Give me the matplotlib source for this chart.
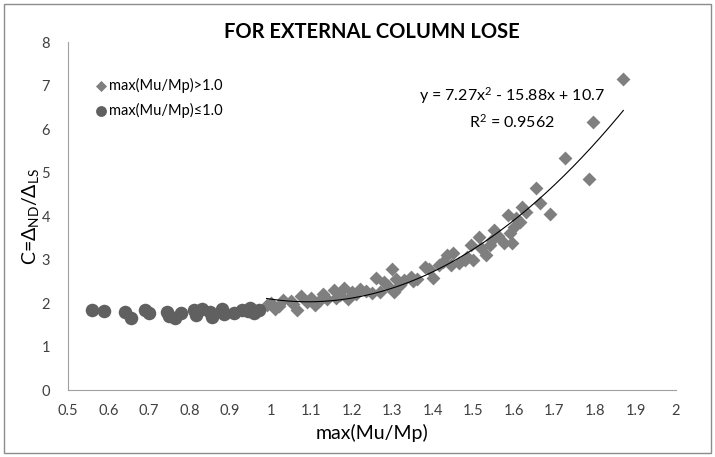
import numpy as np
import matplotlib.pyplot as plt
from matplotlib.patches import Rectangle

# 数据 (x <= 1.0, 圆点)
x_low = [0.56, 0.59, 0.64, 0.655, 0.69, 0.70, 0.745, 0.75, 0.765, 0.78, 0.81, 0.815,
         0.83, 0.85, 0.855, 0.88, 0.885, 0.91, 0.93, 0.945, 0.95, 0.96, 0.97]
y_low = [1.84, 1.82, 1.79, 1.65, 1.84, 1.78, 1.80, 1.70, 1.66, 1.76, 1.83, 1.72,
         1.86, 1.80, 1.68, 1.86, 1.75, 1.78, 1.84, 1.82, 1.88, 1.78, 1.83]

# 数据 (x > 1.0, 菱形)
x_high = [0.99, 1.00, 1.01, 1.02, 1.03, 1.05, 1.055, 1.065, 1.075, 1.09, 1.10, 1.11,
          1.12, 1.13, 1.14, 1.155, 1.16, 1.17, 1.18, 1.19, 1.20, 1.21, 1.22, 1.235,
          1.25, 1.26, 1.27, 1.28, 1.29, 1.30, 1.305, 1.31, 1.32, 1.33, 1.345, 1.35,
          1.36, 1.38, 1.39, 1.40, 1.415, 1.425, 1.435, 1.445, 1.45, 1.465, 1.48, 1.485,
          1.495, 1.50, 1.515, 1.52, 1.53, 1.54, 1.545, 1.55, 1.56, 1.575, 1.585, 1.59,
          1.595, 1.60, 1.605, 1.615, 1.62, 1.63, 1.655, 1.665, 1.69, 1.725, 1.785, 1.795,
          1.87]
y_high = [1.95, 2.00, 1.87, 1.92, 2.08, 2.05, 1.98, 1.84, 2.15, 2.02, 2.12, 1.95,
          2.05, 2.20, 2.10, 2.30, 2.12, 2.18, 2.35, 2.10, 2.25, 2.20, 2.32, 2.28,
          2.22, 2.58, 2.25, 2.48, 2.38, 2.78, 2.25, 2.55, 2.42, 2.52, 2.60, 2.50,
          2.55, 2.83, 2.78, 2.58, 2.87, 2.95, 3.10, 2.88, 3.14, 2.92, 2.99, 3.05,
          3.33, 2.98, 3.52, 3.26, 3.10, 3.33, 3.45, 3.68, 3.55, 3.38, 4.02, 3.60,
          3.38, 3.75, 3.95, 3.87, 4.21, 4.10, 4.64, 4.30, 4.05, 5.33, 4.85, 6.16,
          7.15]

# 趋势线系数
coef = [7.27, -15.88, 10.7]

plt.rcParams['font.family'] = ['Lato', 'DejaVu Sans']
plt.rcParams['mathtext.fontset'] = 'custom'
plt.rcParams['mathtext.rm'] = 'Lato'
plt.rcParams['mathtext.it'] = 'Lato'

fig = plt.figure(figsize=(7.15, 4.57), dpi=100)
ax = fig.add_axes([0.0951, 0.1466, 0.8504, 0.7614])

ax.scatter(x_high, y_high, s=50, marker='D', c='#7f7f7f', linewidths=0, zorder=3,
           label='max(Mu/Mp)>1.0')
ax.scatter(x_low, y_low, s=95, marker='o', c='#606060', linewidths=0, zorder=3,
           label='max(Mu/Mp)≤1.0')

xt = np.linspace(0.99, 1.87, 200)
ax.plot(xt, np.polyval(coef, xt), color='black', lw=0.8, zorder=4)

ax.set_xlim(0.5, 2.0)
ax.set_ylim(0, 8)
ax.set_xticks(np.arange(0.5, 2.01, 0.1))
ax.set_xticklabels(['0.5', '0.6', '0.7', '0.8', '0.9', '1', '1.1', '1.2', '1.3', '1.4',
                    '1.5', '1.6', '1.7', '1.8', '1.9', '2'])
ax.set_yticks(range(0, 9))
ax.tick_params(length=0, labelsize=10.5, colors='#404040')
ax.tick_params(axis='x', pad=10)
ax.tick_params(axis='y', pad=13)
for s in ['top', 'right']:
    ax.spines[s].set_visible(False)
for s in ['left', 'bottom']:
    ax.spines[s].set_color('#a0a0a0')

ax.set_title('FOR EXTERNAL COLUMN LOSE', fontsize=14.5, fontweight='bold', pad=0)
ax.set_xlabel('max(Mu/Mp)', fontsize=14, labelpad=4)
ax.set_ylabel(r'C=$\Delta_{ND}/\Delta_{LS}$', fontsize=14, labelpad=0)

ax.legend(loc='upper left', bbox_to_anchor=(0.02, 0.935), frameon=False, fontsize=10.5,
          handletextpad=0.1, markerscale=0.8, labelspacing=0.7, handlelength=1.0)

ax.text(0.73, 0.81, 'y = 7.27x$^2$ - 15.88x + 10.7\nR$^2$ = 0.9562', transform=ax.transAxes,
        ha='center', va='center', fontsize=11.5, linespacing=1.45)

fig.add_artist(Rectangle((0.005, 0.008), 0.99, 0.984, transform=fig.transFigure,
                         fill=False, edgecolor='#8c8c8c', lw=1.0))

fig.savefig('out.png', dpi=100)
